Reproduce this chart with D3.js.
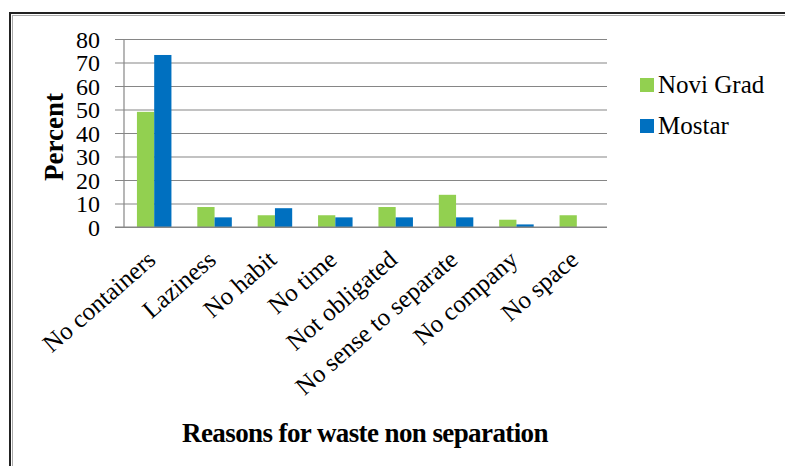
<!DOCTYPE html>
<html><head><meta charset="utf-8">
<script src="https://cdn.jsdelivr.net/npm/d3@7"></script>
<style>body{margin:0;background:#fff}svg{display:block}svg text{font-family:"Liberation Serif","Times New Roman",Times,serif !important}</style>
</head><body>
<script>
const categories = ["No containers","Laziness","No habit","No time","Not obligated","No sense to separate","No company","No space"];
const seriesNames = ["Novi Grad","Mostar"];
const noviGrad = [49, 8.5, 5, 5, 8.5, 13.7, 3.1, 5];
const mostar = [73.2, 4.1, 8, 4.1, 4.1, 4.1, 1.1, 0];
const yTicks = [0,10,20,30,40,50,60,70,80];
const colors = ["#92D050","#0070C0"];

(function(){
const W=785,H=466;
const svg=d3.select("body").append("svg").attr("width",W).attr("height",H);

// frame
svg.append("rect").attr("x",10).attr("y",13).attr("width",800).attr("height",500)
  .attr("fill","none").attr("stroke","#222").attr("stroke-width",2);
svg.append("rect").attr("x",12.5).attr("y",15.5).attr("width",800).attr("height",500)
  .attr("fill","none").attr("stroke","#aaa").attr("stroke-width",1);

const pL=124,pR=607,pT=39,pB=227;
const x=d3.scaleBand().domain(categories).range([pL,pR]).paddingInner(1.5/3.5).paddingOuter(0.75/3.5);
const xs=d3.scaleBand().domain(seriesNames).range([0,x.bandwidth()]);
const y=d3.scaleLinear().domain([0,80]).range([pB,pT]);

const yAxis=d3.axisLeft(y).tickValues(yTicks).tickSize(-(pR-pL)).tickPadding(14).tickFormat(d3.format("d"));
const gy=svg.append("g").attr("transform",`translate(${pL},0)`).call(yAxis);
gy.attr("font-family",null).attr("font-size",null);
gy.select(".domain").remove();
gy.selectAll(".tick line").attr("stroke","#868686").attr("stroke-width",1.2).attr("x1",-9);
gy.selectAll(".tick text").style("font-size","24px").attr("fill","#000").attr("x",-24).attr("dy","0.35em");
svg.append("line").attr("x1",pL).attr("x2",pL).attr("y1",pT).attr("y2",pB).attr("stroke","#868686").attr("stroke-width",1.2);

const data=categories.map((c,i)=>({c,vals:[noviGrad[i],mostar[i]]}));
const g=svg.append("g");
data.forEach(d=>{
  d.vals.forEach((v,j)=>{
    g.append("rect").attr("x",x(d.c)+xs(seriesNames[j])).attr("width",xs.bandwidth())
     .attr("y",y(v)).attr("height",y(0)-y(v)).attr("fill",colors[j]);
  });
});
svg.append("line").attr("x1",pL-9).attr("x2",pR).attr("y1",y(0)).attr("y2",y(0)).attr("stroke","#868686").attr("stroke-width",1.2);

const xAxis=d3.axisBottom(x).tickSize(0).tickPadding(0);
const gx=svg.append("g").attr("transform",`translate(0,${pB})`).call(xAxis);
gx.attr("font-family",null).attr("font-size",null);
gx.select(".domain").remove();
gx.selectAll(".tick text").style("font-size","25px").attr("fill","#000")
  .attr("text-anchor","end").attr("y",0).attr("dy",0)
  .attr("transform","translate(3,35) rotate(-41)");

svg.append("text").attr("transform","translate(63,137) rotate(-90)").attr("text-anchor","middle")
  .style("font-weight","bold").style("font-size","27px").text("Percent");
svg.append("text").attr("x",365).attr("y",442).attr("text-anchor","middle")
  .style("font-weight","bold").style("font-size","27px").attr("letter-spacing",-0.6).text("Reasons for waste non separation");

const lg=svg.append("g");
seriesNames.forEach((s,i)=>{
  const yy=78+i*41;
  lg.append("rect").attr("x",640).attr("y",yy).attr("width",14).attr("height",14).attr("fill",colors[i]);
  lg.append("text").attr("x",658).attr("y",yy+15).style("font-size","25px").attr("fill","#000").text(s);
});
})();
</script>
</body></html>
